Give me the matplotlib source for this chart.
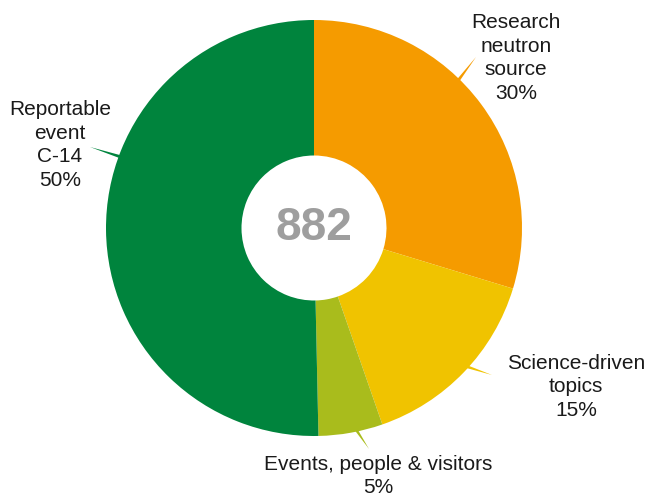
import matplotlib.pyplot as plt
from matplotlib.patches import Polygon
import numpy as np

plt.rcParams['font.family'] = ['Liberation Sans', 'DejaVu Sans']

# data (counts, total 882)
labels = ['Research\nneutron\nsource', 'Science-driven\ntopics',
          'Events, people & visitors', 'Reportable\nevent\nC-14']
counts = [262, 132, 44, 444]
colors = ['#F59B00', '#F0C300', '#A9BC1C', '#00843D']
total = sum(counts)

W, H = 648, 497
fig = plt.figure(figsize=(W / 100, H / 100), dpi=100)
ax = fig.add_axes([0, 0, 1, 1])

cx, cy = 314, H - 228
r_out, r_in = 208, 72.5

ax.pie(counts, colors=colors, startangle=90, counterclock=False,
       radius=r_out, center=(cx, cy), frame=True,
       wedgeprops=dict(width=r_out - r_in, linewidth=0))
ax.set_xlim(0, W)
ax.set_ylim(0, H)
ax.set_aspect('equal')
ax.axis('off')

# label placement in pixel coords (top-left origin)
text_pos = [(516, 58), (576, 387), (378, 476), (60, 145)]
leaders = [((460, 78), (476, 57)), ((468, 367), (492, 375)),
           ((357, 431), (369, 449)), ((118, 156), (90, 147))]

for lab, c, col, (tx, ty), (p0, p1) in zip(labels, counts, colors, text_pos, leaders):
    pct = round(100 * c / total)
    ax.text(tx, H - ty, f'{lab}\n{pct}%', ha='center', va='center',
            fontsize=15, color='#1a1a1a', linespacing=1.32)
    # tapered leader line
    x0, y0 = p0[0], H - p0[1]
    x1, y1 = p1[0], H - p1[1]
    d = np.array([x1 - x0, y1 - y0])
    n = np.array([-d[1], d[0]]) / np.hypot(*d) * 1.6
    back = -d / np.hypot(*d) * 4
    poly = Polygon([(x0 + back[0] + n[0], y0 + back[1] + n[1]),
                    (x0 + back[0] - n[0], y0 + back[1] - n[1]),
                    (x1, y1)], closed=True, color=col, lw=0)
    ax.add_patch(poly)

ax.text(cx, cy, f'{total}', ha='center', va='center', fontsize=33,
        fontweight='bold', color='#9E9E9E')

fig.savefig('out.png', dpi=100)
